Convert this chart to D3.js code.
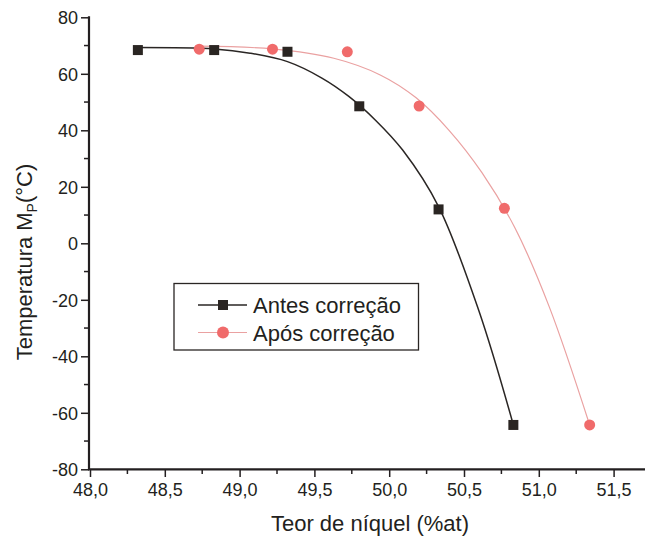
<!DOCTYPE html>
<html>
<head>
<meta charset="utf-8">
<script src="https://cdn.jsdelivr.net/npm/d3@7"></script>
<style>
  body { margin: 0; background: #fff; }
  text { font-family: "Liberation Sans", Arial, sans-serif; fill: #231f20; }
</style>
</head>
<body>
<div id="chart"></div>
<script>
// measured points
var antesX = [48.32, 48.83, 49.32, 49.80, 50.33, 50.83];
var antesY = [68.4, 68.4, 67.8, 48.5, 12.0, -64.3];
var aposX = [48.73, 49.22, 49.72, 50.20, 50.77, 51.34];
var aposY = [68.7, 68.7, 67.8, 48.6, 12.4, -64.3];

// fitted curves
var antesFitX = [48.32, 48.83, 49.07, 49.32, 49.55, 49.73, 49.91, 50.09, 50.33, 50.60, 50.83];
var antesFitY = [69.3, 68.8, 67.3, 64.3, 58.5, 52.0, 43.5, 33.0, 13.0, -24.0, -64.3];
var aposFitX = [48.73, 49.22, 49.63, 49.94, 50.18, 50.40, 50.62, 50.84, 51.07, 51.34];
var aposFitY = [69.8, 68.8, 65.5, 59.6, 51.5, 40.0, 25.0, 5.5, -22.5, -64.3];

var xTicks = [48.0, 48.5, 49.0, 49.5, 50.0, 50.5, 51.0, 51.5];
var yTicks = [-80, -60, -40, -20, 0, 20, 40, 60, 80];
var seriesNames = ["Antes correção", "Após correção"];

var width = 645,
    height = 538;

var x = d3.scaleLinear().domain([48, 51.5]).range([90, 613.6]);
var y = d3.scaleLinear().domain([-80, 80]).range([469.3, 17.3]);

var fmt = function(d) { return d3.format(".1f")(d).replace(".", ","); };

var svg = d3.select("#chart").append("svg")
    .attr("width", width)
    .attr("height", height);

var axisColor = "#231f20";

// minor ticks
svg.append("g")
    .selectAll("line")
    .data(d3.range(-70, 80, 20))
    .enter().append("line")
    .attr("x1", 84).attr("x2", 89)
    .attr("y1", function(d) { return y(d); })
    .attr("y2", function(d) { return y(d); })
    .attr("stroke", axisColor).attr("stroke-width", 1.5);

svg.append("g")
    .selectAll("line")
    .data(d3.range(48.25, 51.6, 0.5))
    .enter().append("line")
    .attr("y1", 469).attr("y2", 474)
    .attr("x1", function(d) { return x(d); })
    .attr("x2", function(d) { return x(d); })
    .attr("stroke", axisColor).attr("stroke-width", 1.5);

// y axis
var yAxis = svg.append("g")
    .attr("transform", "translate(89,0)")
    .call(d3.axisLeft(y).tickValues(yTicks).tickSize(8).tickPadding(3).tickFormat(function(d) { return String(d); }));
yAxis.select(".domain").remove();
yAxis.selectAll(".tick line").attr("stroke", axisColor).attr("stroke-width", 1.5);
yAxis.selectAll(".tick text").attr("font-size", 18).attr("dy", "0.35em").attr("fill", axisColor);

// x axis
var xAxis = svg.append("g")
    .attr("transform", "translate(0,469)")
    .call(d3.axisBottom(x).tickValues(xTicks).tickSize(8).tickPadding(6).tickFormat(fmt));
xAxis.select(".domain").remove();
xAxis.selectAll(".tick line").attr("stroke", axisColor).attr("stroke-width", 1.5);
xAxis.selectAll(".tick text").attr("font-size", 18).attr("fill", axisColor);

// axis lines
svg.append("line")
    .attr("x1", 89).attr("x2", 89)
    .attr("y1", y(80) - 1).attr("y2", 470)
    .attr("stroke", axisColor).attr("stroke-width", 2.2);
svg.append("line")
    .attr("x1", 88).attr("x2", width)
    .attr("y1", 469.3).attr("y2", 469.3)
    .attr("stroke", axisColor).attr("stroke-width", 2.2);

// axis titles
svg.append("text")
    .attr("x", 370).attr("y", 531)
    .attr("text-anchor", "middle")
    .attr("font-size", 22)
    .text("Teor de níquel (%at)");

var yTitle = svg.append("text")
    .attr("transform", "translate(32,262)rotate(-90)")
    .attr("text-anchor", "middle")
    .attr("font-size", 22);
yTitle.append("tspan").text("Temperatura M");
yTitle.append("tspan").attr("font-size", 14).attr("dy", 5).text("P");
yTitle.append("tspan").attr("dy", -5).text("(°C)");

// curves
var line = d3.line()
    .x(function(d) { return x(d[0]); })
    .y(function(d) { return y(d[1]); })
    .curve(d3.curveCatmullRom.alpha(0.5));

svg.append("path")
    .datum(d3.zip(aposFitX, aposFitY))
    .attr("d", line)
    .attr("fill", "none")
    .attr("stroke", "#eaa1a1")
    .attr("stroke-width", 1.2);

svg.append("path")
    .datum(d3.zip(antesFitX, antesFitY))
    .attr("d", line)
    .attr("fill", "none")
    .attr("stroke", "#2a2624")
    .attr("stroke-width", 1.5);

// markers
svg.append("g")
    .selectAll("circle")
    .data(d3.zip(aposX, aposY))
    .enter().append("circle")
    .attr("cx", function(d) { return x(d[0]); })
    .attr("cy", function(d) { return y(d[1]); })
    .attr("r", 5.5)
    .attr("fill", "#f06b6b");

svg.append("g")
    .selectAll("rect")
    .data(d3.zip(antesX, antesY))
    .enter().append("rect")
    .attr("x", function(d) { return x(d[0]) - 5; })
    .attr("y", function(d) { return y(d[1]) - 5; })
    .attr("width", 10)
    .attr("height", 10)
    .attr("fill", "#2a2522");

// legend
var legend = svg.append("g");
legend.append("rect")
    .attr("x", 174).attr("y", 283.5)
    .attr("width", 244.5).attr("height", 66.5)
    .attr("fill", "#fff")
    .attr("stroke", "#2a2624")
    .attr("stroke-width", 1.3);

legend.append("line")
    .attr("x1", 198).attr("x2", 247).attr("y1", 305).attr("y2", 305)
    .attr("stroke", "#2a2624").attr("stroke-width", 1.5);
legend.append("rect")
    .attr("x", 218).attr("y", 300).attr("width", 10).attr("height", 10)
    .attr("fill", "#2a2522");
legend.append("text")
    .attr("x", 253).attr("y", 313)
    .attr("font-size", 22)
    .text(seriesNames[0]);

legend.append("line")
    .attr("x1", 198).attr("x2", 247).attr("y1", 332.5).attr("y2", 332.5)
    .attr("stroke", "#eaa1a1").attr("stroke-width", 1.2);
legend.append("circle")
    .attr("cx", 223).attr("cy", 332.5).attr("r", 6)
    .attr("fill", "#f06b6b");
legend.append("text")
    .attr("x", 253).attr("y", 341)
    .attr("font-size", 22)
    .text(seriesNames[1]);
</script>
</body>
</html>
